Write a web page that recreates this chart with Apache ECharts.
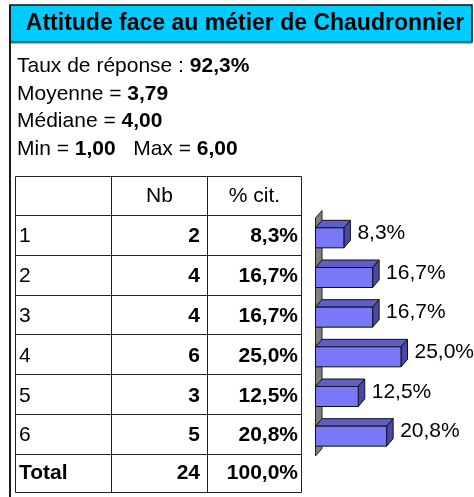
<!DOCTYPE html>
<html>
<head>
<meta charset="utf-8">
<script src="https://cdn.jsdelivr.net/npm/echarts@6/dist/echarts.min.js"></script>
<style>
  html, body { margin: 0; padding: 0; background: #fff; }
  #chart { width: 474px; height: 497px; }
</style>
</head>
<body>
<div id="chart"></div>
<script>
// ---- Data ----
const title = 'Attitude face au métier de Chaudronnier';
const categories = ['1', '2', '3', '4', '5', '6'];
const counts = [2, 4, 4, 6, 3, 5];
const percents = [8.3, 16.7, 16.7, 25.0, 12.5, 20.8];
const totalCount = 24;
const totalPercent = 100.0;
const tableHeaders = ['', 'Nb', '% cit.'];
const totalLabel = 'Total';
const responseRate = 92.3;
const meanValue = 3.79;
const medianValue = 4.00;
const minValue = 1.00;
const maxValue = 6.00;

// ---- Helpers ----
const FONT = "'Liberation Sans', Arial, sans-serif";
const fr = (v, d) => v.toFixed(d).replace('.', ',');
const pctText = v => fr(v, 1) + '%';

const FS = 21;
const regular = FS + 'px ' + FONT;
const bold = 'bold ' + FS + 'px ' + FONT;

const graphics = [];

// Title band and frame
graphics.push({
  type: 'rect', shape: { x: 10, y: 5, width: 462, height: 37 },
  style: { fill: '#00CCFF', stroke: '#111', lineWidth: 1.5 }
});
graphics.push({
  type: 'line', shape: { x1: 10, y1: 42.5, x2: 472, y2: 42.5 },
  style: { stroke: '#2d7d94', lineWidth: 2 }
});
graphics.push({
  type: 'line', shape: { x1: 10, y1: 5, x2: 10, y2: 497 },
  style: { stroke: '#1a1a1a', lineWidth: 2 }
});
graphics.push({
  type: 'text', x: 245, y: 24,
  style: { text: title, font: 'bold 23px ' + FONT, fill: '#000', align: 'center', verticalAlign: 'middle' }
});

// Summary statistics
const statLines = [
  '{r|Taux de réponse : }{b|' + fr(responseRate, 1) + '%}',
  '{r|Moyenne = }{b|' + fr(meanValue, 2) + '}',
  '{r|Médiane = }{b|' + fr(medianValue, 2) + '}',
  '{r|Min = }{b|' + fr(minValue, 2) + '}{r|   Max = }{b|' + fr(maxValue, 2) + '}'
];
statLines.forEach((t, i) => {
  graphics.push({
    type: 'text', x: 17, y: 66.5 + i * 27.5,
    style: {
      text: t, fill: '#000', verticalAlign: 'middle', align: 'left',
      rich: { r: { font: regular, fill: '#000' }, b: { font: bold, fill: '#000' } }
    }
  });
});

// Table grid
const colX = [15.5, 111.5, 207.5, 301.5];
const headTop = 176.5, headBottom = 215.5, rowH = 39.83, tableBottom = 492.5;
const rowLines = [headTop, headBottom];
for (let i = 1; i <= categories.length; i++) rowLines.push(headBottom + i * rowH);
rowLines.push(tableBottom);
rowLines.forEach(y => {
  const yy = Math.round(y - 0.5) + 0.5;
  graphics.push({ type: 'line', shape: { x1: colX[0], y1: yy, x2: colX[3], y2: yy }, style: { stroke: '#222', lineWidth: 1 } });
});
colX.forEach(x => {
  graphics.push({ type: 'line', shape: { x1: x, y1: headTop, x2: x, y2: tableBottom }, style: { stroke: '#222', lineWidth: 1 } });
});

// Header
const headY = (headTop + headBottom) / 2;
tableHeaders.forEach((h, j) => {
  if (!h) return;
  graphics.push({
    type: 'text', x: (colX[j] + colX[j + 1]) / 2, y: headY,
    style: { text: h, font: regular, fill: '#000', align: 'center', verticalAlign: 'middle' }
  });
});

// Body rows
const cellText = (x, y, text, font, align) => ({
  type: 'text', x, y, style: { text, font, fill: '#000', align, verticalAlign: 'middle' }
});
categories.forEach((c, i) => {
  const y = headBottom + (i + 0.5) * rowH + 1;
  graphics.push(cellText(19, y, c, regular, 'left'));
  graphics.push(cellText(200, y, String(counts[i]), bold, 'right'));
  graphics.push(cellText(298, y, pctText(percents[i]), bold, 'right'));
});
const totalY = (headBottom + categories.length * rowH + tableBottom) / 2;
graphics.push(cellText(19, totalY, totalLabel, bold, 'left'));
graphics.push(cellText(200, totalY, String(totalCount), bold, 'right'));
graphics.push(cellText(298, totalY, pctText(totalPercent), bold, 'right'));

// ---- 3D bar chart ----
const DX = 6.5, DY = 7.5, BAR_H = 20;
const COL_FRONT = '#7878F8', COL_TOP = '#5E5EC4', COL_SIDE = '#4848A8';

function renderWall(params, api) {
  const cs = params.coordSys;
  const x = cs.x, y0 = cs.y, y1 = cs.y + cs.height;
  return {
    type: 'polygon',
    shape: { points: [[x, y0], [x + DX, y0 - DY], [x + DX, y1 - DY], [x, y1]] },
    style: { fill: '#808080', stroke: '#222', lineWidth: 1 }
  };
}

function renderBar(params, api) {
  const v = api.value(0), idx = api.value(1);
  const p0 = api.coord([0, idx]);
  const p1 = api.coord([v, idx]);
  const x0 = p0[0], x1 = p1[0], yc = p0[1];
  const yt = yc - BAR_H / 2, yb = yc + BAR_H / 2;
  const edge = { stroke: '#111', lineWidth: 1 };
  return {
    type: 'group',
    children: [
      { type: 'polygon', shape: { points: [[x0, yt], [x1, yt], [x1 + DX, yt - DY], [x0 + DX, yt - DY]] },
        style: Object.assign({ fill: COL_TOP }, edge) },
      { type: 'polygon', shape: { points: [[x1, yt], [x1 + DX, yt - DY], [x1 + DX, yb - DY], [x1, yb]] },
        style: Object.assign({ fill: COL_SIDE }, edge) },
      { type: 'rect', shape: { x: x0, y: yt, width: x1 - x0, height: BAR_H },
        style: Object.assign({ fill: COL_FRONT }, edge) },
      { type: 'text', x: x1 + DX + 7, y: yc - 4.5,
        style: { text: pctText(v), font: regular, fill: '#000', align: 'left', verticalAlign: 'middle' } }
    ]
  };
}

const chart = echarts.init(document.getElementById('chart'), null, { renderer: 'canvas' });
chart.setOption({
  animation: false,
  backgroundColor: '#fff',
  grid: { left: 315.5, top: 218, width: 102.6, height: 238 },
  xAxis: { type: 'value', min: 0, max: 30, show: false },
  yAxis: { type: 'category', data: categories, inverse: true, show: false },
  series: [
    { type: 'custom', renderItem: renderWall, data: [[0, 0]], encode: { x: 0, y: 1 }, silent: true, clip: false },
    { type: 'custom', renderItem: renderBar, data: percents.map((v, i) => [v, i]), encode: { x: 0, y: 1 }, clip: false }
  ],
  graphic: { elements: graphics }
});
</script>
</body>
</html>
